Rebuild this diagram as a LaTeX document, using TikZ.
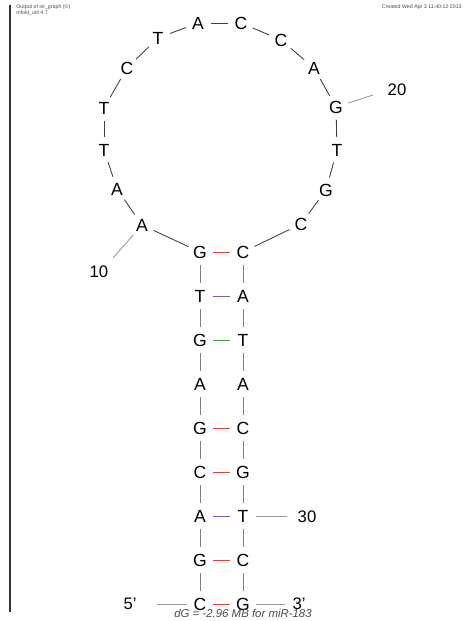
\documentclass[tikz,border=0pt]{standalone}
\usepackage{fontspec}
\setmainfont{Liberation Sans}
\definecolor{prgc}{RGB}{215,70,70}
\definecolor{prau}{RGB}{100,100,200}
\definecolor{prgu}{RGB}{70,165,70}
\begin{document}
\begin{tikzpicture}[x=0.02cm, y=-0.02cm,
  base/.style={circle, minimum size=0.5cm, inner sep=0pt, font=\fontsize{10}{12}\selectfont},
  bbone/.style={draw=black!50, line width=0.5pt},
  lbone/.style={draw=black!75, line width=0.5pt},
  tick/.style={draw=black!40, line width=0.5pt},
  numlab/.style={font=\fontsize{9.5}{11}\selectfont},
  hdr/.style={font=\fontsize{3}{3.6}\selectfont, text=black!70, inner sep=0pt}]

\useasboundingbox (0,0) rectangle (469,621);

% intestazione
\draw[black!80, line width=0.6pt] (10,5) -- (10,612);
\node[hdr, anchor=north west, align=left] (hl) at (16,4) {Output of sir\_graph (\copyright)\\mfold\_util 4.7};
\node[hdr, anchor=north east] (hr) at (462,4) {Created Wed Apr 3 11:40:12 2013};

% stelo, lato 5'
\node[base] (n1) at (200,604) {C};
\node[base] (n2) at (200,560) {G};
\node[base] (n3) at (200,516) {A};
\node[base] (n4) at (200,472) {C};
\node[base] (n5) at (200,428) {G};
\node[base] (n6) at (200,384) {A};
\node[base] (n7) at (200,340) {G};
\node[base] (n8) at (200,296) {T};
\node[base] (n9) at (200,252) {G};

% ansa
\node[base] (n10) at (142,225) {A};
\node[base] (n11) at (117,189) {A};
\node[base] (n12) at (104,150) {T};
\node[base] (n13) at (104,108) {T};
\node[base] (n14) at (127,68) {C};
\node[base] (n15) at (158,38) {T};
\node[base] (n16) at (198,23) {A};
\node[base] (n17) at (241,23) {C};
\node[base] (n18) at (281,40) {C};
\node[base] (n19) at (314,68) {A};
\node[base] (n20) at (336,107) {G};
\node[base] (n21) at (337,150) {T};
\node[base] (n22) at (326,190) {G};
\node[base] (n23) at (301,224) {C};

% stelo, lato 3'
\node[base] (n24) at (243,252) {C};
\node[base] (n25) at (243,296) {A};
\node[base] (n26) at (243,340) {T};
\node[base] (n27) at (243,384) {A};
\node[base] (n28) at (243,428) {C};
\node[base] (n29) at (243,472) {G};
\node[base] (n30) at (243,516) {T};
\node[base] (n31) at (243,560) {C};
\node[base] (n32) at (243,604) {G};

% scheletro: stelo e ansa
\foreach \i [evaluate=\i as \j using int(\i+1)] in {1,...,8,24,25,...,31}
  \draw[bbone] (n\i) -- (n\j);
\foreach \i [evaluate=\i as \j using int(\i+1)] in {9,...,23}
  \draw[lbone] (n\i) -- (n\j);

% coppie di basi
\draw[prgc] (n9) -- (n24);
\draw[prau] (n8) -- (n25);
\draw[prgu] (n7) -- (n26);
\draw[prgc] (n5) -- (n28);
\draw[prgc] (n4) -- (n29);
\draw[prau] (n3) -- (n30);
\draw[prgc] (n2) -- (n31);
\draw[prgc] (n1) -- (n32);

% numerazione
\coordinate (t10) at (113,258);
\draw[tick] (n10) -- (t10);
\node[numlab] (l10) at (99,272) {10};
\coordinate (t20) at (373,95);
\draw[tick] (n20) -- (t20);
\node[numlab] (l20) at (397,90) {20};
\coordinate (t30) at (287,516);
\draw[tick] (n30) -- (t30);
\node[numlab] (l30) at (307,517) {30};

% estremi 5' e 3'
\coordinate (t5) at (157,604);
\draw[tick] (n1) -- (t5);
\node[numlab] (l5) at (130,604) {5'};
\coordinate (t3) at (285,604);
\draw[tick] (n32) -- (t3);
\node[numlab] (l3) at (299,604) {3'};

% energia
\node[font=\fontsize{6.5}{8}\selectfont\itshape, text=black!70] (dg) at (243,613) {dG = -2.96 MB for miR-183};

\end{tikzpicture}
\end{document}
